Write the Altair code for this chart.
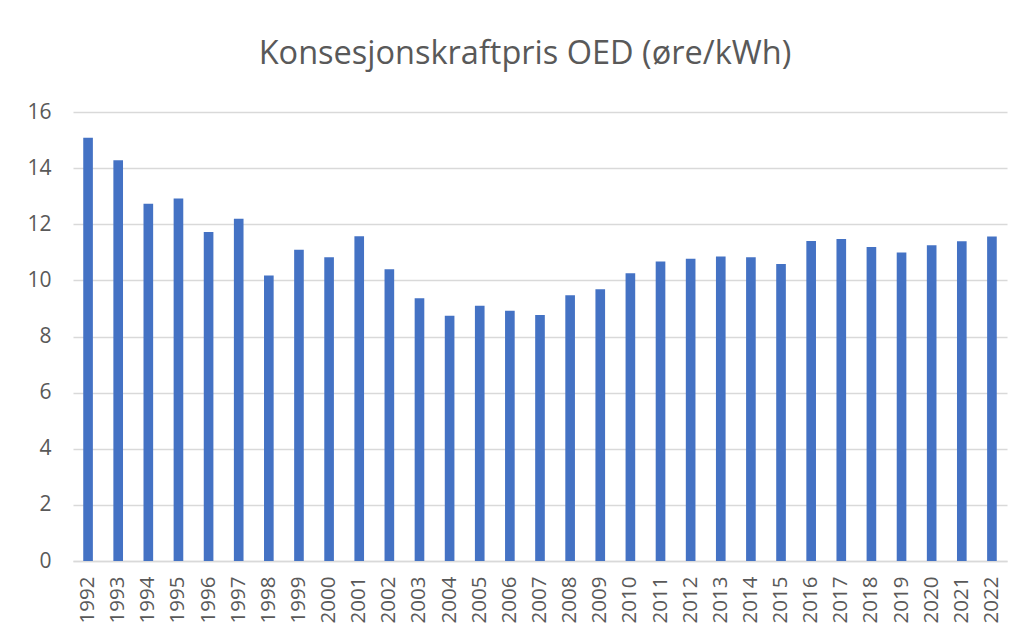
import altair as alt
import pandas as pd

years = [str(y) for y in range(1992, 2023)]
values = [15.08, 14.28, 12.73, 12.92, 11.72, 12.20, 10.17, 11.09, 10.82, 11.57,
          10.40, 9.36, 8.74, 9.10, 8.92, 8.77, 9.47, 9.68, 10.25, 10.67,
          10.77, 10.85, 10.82, 10.58, 11.40, 11.47, 11.19, 10.99, 11.25, 11.39,
          11.56]
y_ticks = [0, 2, 4, 6, 8, 10, 12, 14, 16]

df = pd.DataFrame({"year": years, "value": values})

FONT = "Open Sans"
GRAY = "#595959"

chart = (
    alt.Chart(df)
    .mark_bar(color="#4472C4")
    .encode(
        x=alt.X(
            "year:N",
            sort=years,
            title=None,
            scale=alt.Scale(paddingInner=0.68, paddingOuter=0.34),
            axis=alt.Axis(
                labelAngle=270,
                labelAlign="right",
                labelBaseline="middle",
                labelPadding=15,
                labelFontSize=20.5,
                labelColor=GRAY,
                labelFont=FONT,
                ticks=False,
                domainColor="#d9d9d9",
                domainWidth=1.3,
                labelOverlap=False,
            ),
        ),
        y=alt.Y(
            "value:Q",
            title=None,
            scale=alt.Scale(domain=[0, 16], nice=False),
            axis=alt.Axis(
                values=y_ticks,
                labelFontSize=21,
                labelColor=GRAY,
                labelFont=FONT,
                labelPadding=22,
                ticks=False,
                domain=False,
                gridColor="#d9d9d9",
                gridWidth=1.3,
            ),
        ),
    )
    .properties(
        width=934,
        height=449,
        padding={"left": 65, "top": 104, "right": 10, "bottom": 66},
        autosize=alt.AutoSizeParams(type="none"),
        title=alt.TitleParams(
            "Konsesjonskraftpris OED (øre/kWh)",
            font=FONT,
            fontSize=32.5,
            fontWeight="normal",
            color=GRAY,
            anchor="middle",
            frame="group",
            baseline="alphabetic",
            offset=5,
            dx=-15,
        ),
    )
    .configure_view(stroke=None)
)

chart.save("out.html", embed_options={"renderer": "svg", "actions": False})
